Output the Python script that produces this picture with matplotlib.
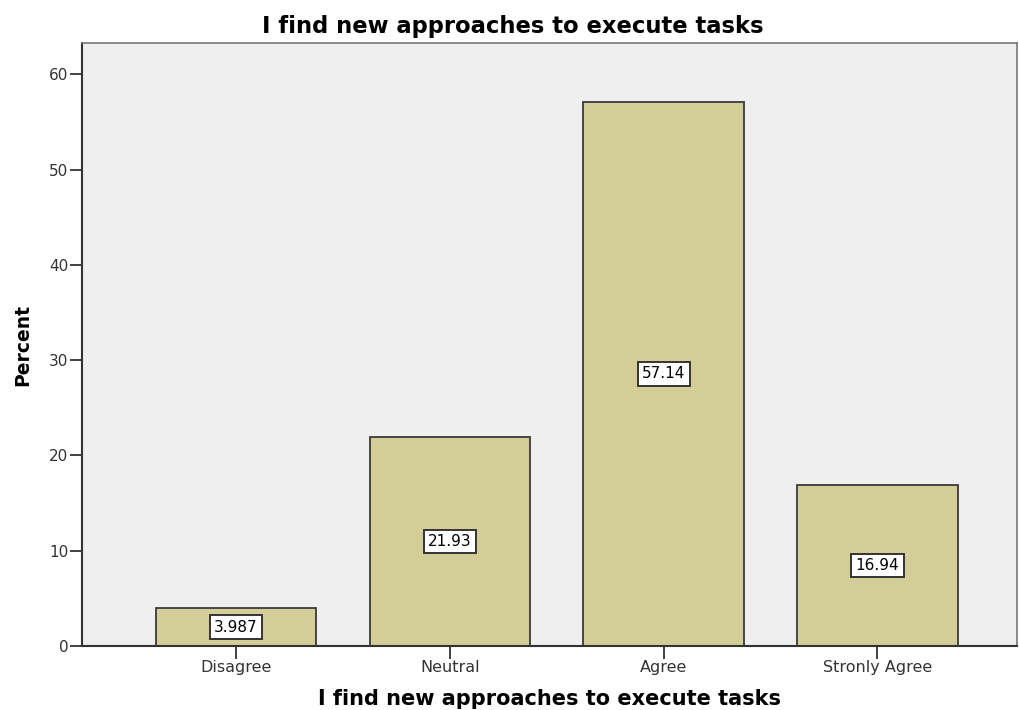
import numpy as np
import matplotlib.pyplot as plt

categories = ["Disagree", "Neutral", "Agree", "Stronly Agree"]
percent = [3.987, 21.93, 57.14, 16.94]
labels = ["3.987", "21.93", "57.14", "16.94"]

plt.rcParams['font.family'] = ['DejaVu Sans']

fig = plt.figure(figsize=(10.19, 7.10), dpi=100)
ax = fig.add_axes([0.0805, 0.090, 0.918, 0.849])
ax.set_facecolor('#efefef')

x = np.arange(len(categories))
ax.bar(x, percent, width=0.75, color='#d3ce97', edgecolor='#3a3a3a', linewidth=1.3, zorder=2)

# value boxes in the middle of each bar
for xi, v, s in zip(x, percent, labels):
    ax.text(xi, v / 2, s, ha='center', va='center', fontsize=11, zorder=3,
            bbox=dict(boxstyle='square,pad=0.28', facecolor='white', edgecolor='#333333', linewidth=1.4))

ax.set_xlim(-0.72, 3.655)
ax.set_ylim(0, 63.25)
ax.set_yticks([0, 10, 20, 30, 40, 50, 60])
ax.set_xticks(x)
ax.set_xticklabels(categories, fontsize=11.5)
ax.tick_params(axis='y', labelsize=11, length=9, width=1.3, pad=1, colors='#333333')
ax.tick_params(axis='x', length=9, width=1.3, pad=1, colors='#333333')

for side in ['left', 'bottom']:
    ax.spines[side].set_color('#333333')
    ax.spines[side].set_linewidth(1.5)
for side in ['top', 'right']:
    ax.spines[side].set_color('#777777')
    ax.spines[side].set_linewidth(1.2)

fig.text(0.503, 0.962, "I find new approaches to execute tasks", fontsize=16.3,
         fontweight='bold', ha='center', va='center')
ax.set_xlabel("I find new approaches to execute tasks", fontsize=15, fontweight='bold', labelpad=10)
ax.set_ylabel("Percent", fontsize=13.5, fontweight='bold', labelpad=12)

fig.savefig('out.png', dpi=100)
